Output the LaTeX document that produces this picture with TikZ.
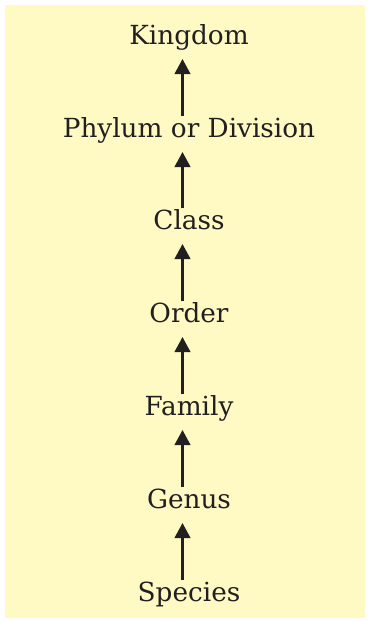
\documentclass[tikz,border=0pt]{standalone}
\usepackage{fontspec}
\setmainfont{DejaVu Serif}
\usetikzlibrary{arrows.meta}
\definecolor{bgyellow}{RGB}{255,249,196}
\definecolor{ink}{RGB}{35,31,32}
\tikzset{
  rank/.style={anchor=base, text=ink, font=\fontsize{26.3pt}{30pt}\selectfont, inner sep=0pt},
  uparrow/.style={draw=ink, line width=2.5pt, -{Triangle[length=15pt,width=15.5pt]}}
}
\begin{document}
\begin{tikzpicture}[x=1pt,y=-1pt]
\useasboundingbox (0,0) rectangle (367,621);
\fill[bgyellow] (5,5) rectangle (365,618);
\node[rank] (kingdom) at (189,44) {Kingdom};
\node[rank] (phylum) at (189,137) {Phylum or Division};
\node[rank] (class) at (189,229) {Class};
\node[rank] (order) at (189,322) {Order};
\node[rank] (family) at (189,415) {Family};
\node[rank] (genus) at (189,508) {Genus};
\node[rank] (species) at (189,601) {Species};
\foreach \lo/\hi in {phylum/kingdom, class/phylum, order/class, family/order, genus/family, species/genus}{
  \draw[uparrow] ([xshift=-6.5pt,yshift=21pt]\lo.base) -- ([xshift=-6.5pt,yshift=-15pt]\hi.base);
}
\end{tikzpicture}
\end{document}
